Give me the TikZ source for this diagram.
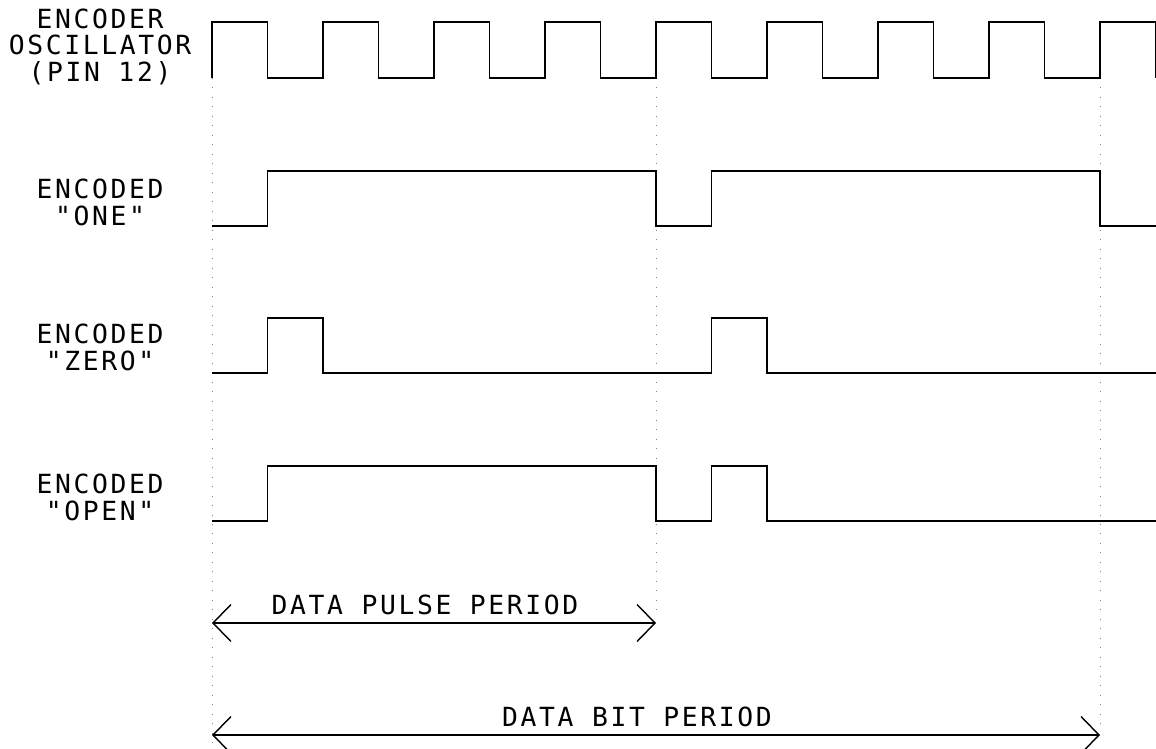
\documentclass[tikz,border=0pt]{standalone}
\usepackage{fontspec}
\usetikzlibrary{arrows.meta}
\newfontfamily\plotterfont{DejaVu Sans Mono}[LetterSpace=10]

\begin{document}
\begin{tikzpicture}[
  x=0.2mm,y=-0.2mm,
  signal/.style={line width=0.8pt,line join=miter},
  guide/.style={line width=0.5pt,gray,dash pattern=on 0.4pt off 5pt},
  dimline/.style={line width=0.8pt,
    {Straight Barb[length=3.6mm,width=7.4mm]}-{Straight Barb[length=3.6mm,width=7.4mm]}},
  tag/.style={font=\plotterfont\fontsize{15}{15}\selectfont,align=center,anchor=south,inner sep=0pt},
  dimtext/.style={font=\plotterfont\fontsize{15}{15}\selectfont,anchor=base,inner sep=0pt}
]
  \useasboundingbox (0,0) rectangle (1156,749);

  % bit boundaries
  \coordinate (t0) at (212,78);
  \coordinate (t1) at (656,78);
  \coordinate (t2) at (1100,78);
  \draw[guide] (t0) -- ++(0,671);
  \draw[guide] (t1) -- ++(0,537);
  \draw[guide] (t2) -- ++(0,649);

  % oscillator
  \draw[signal] (t0) \foreach \k in {1,...,8} { -- ++(0,-56) -- ++(55.5,0) -- ++(0,56) -- ++(55.5,0) }
    -- ++(0,-56) -- ++(55.5,0) -- ++(0,56);

  % encoded words
  \draw[signal] (212,226) -- (267.5,226) -- (267.5,171) -- (656,171) -- (656,226)
    -- (711.5,226) -- (711.5,171) -- (1100,171) -- (1100,226) -- (1156,226);
  \draw[signal] (212,373) -- (267.5,373) -- (267.5,318) -- (323,318) -- (323,373)
    -- (711.5,373) -- (711.5,318) -- (767,318) -- (767,373) -- (1156,373);
  \draw[signal] (212,521) -- (267.5,521) -- (267.5,466) -- (656,466) -- (656,521)
    -- (711.5,521) -- (711.5,466) -- (767,466) -- (767,521) -- (1156,521);

  \node[tag] (osc) at (100,85) {ENCODER\\OSCILLATOR\\(PIN 12)};
  \node[tag] (one) at (100,226) {ENCODED\\"ONE"};
  \node[tag] (zero) at (100,371) {ENCODED\\"ZERO"};
  \node[tag] (open) at (100,521) {ENCODED\\"OPEN"};

  % periods
  \coordinate (ps) at (212,623);
  \coordinate (pe) at (656,623);
  \coordinate (bs) at (212,735);
  \coordinate (be) at (1100,735);
  \draw[dimline] (ps) -- (pe);
  \node[dimtext] (pulse) at (425,614) {DATA PULSE PERIOD};
  \draw[dimline] (bs) -- (be);
  \node[dimtext] (bit) at (637,726) {DATA BIT PERIOD};
\end{tikzpicture}
\end{document}
